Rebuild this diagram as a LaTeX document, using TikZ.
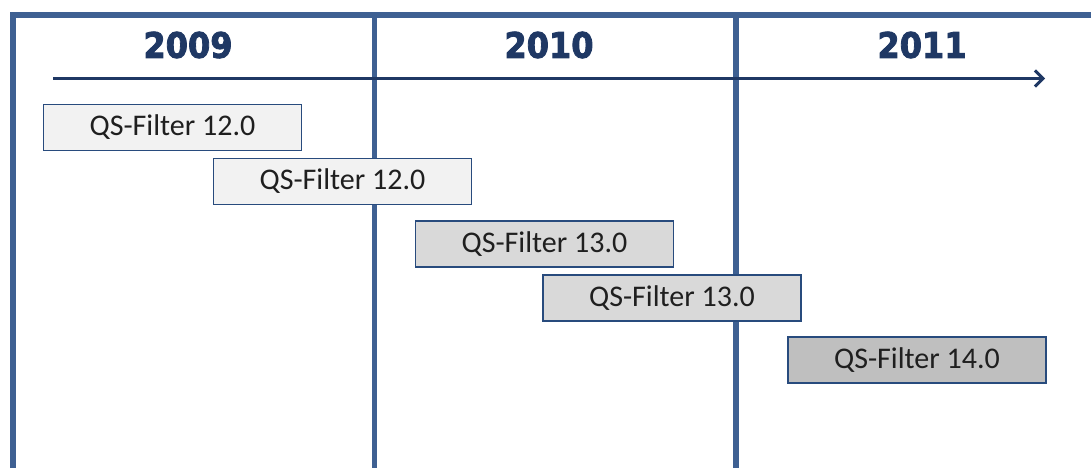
\documentclass[tikz,border=0pt]{standalone}
\usepackage{fontspec}
\setmainfont{Carlito}
\newfontfamily\yearfont[FakeBold=2.5]{DejaVu Sans Bold}
\usetikzlibrary{arrows.meta}
\definecolor{frameblue}{RGB}{62,96,146}
\definecolor{navy}{RGB}{31,56,100}
\definecolor{boxedge}{RGB}{40,75,125}
\definecolor{g1}{RGB}{242,242,242}
\definecolor{g2}{RGB}{217,217,217}
\definecolor{g3}{RGB}{191,191,191}
\tikzset{
  frameline/.style={draw=frameblue, line width=5.5pt},
  year/.style={font=\yearfont\fontsize{32}{32}\selectfont, text=navy, draw=none, inner sep=0pt, yscale=1.1},
  verbox/.style={draw=boxedge, line width=1.5pt, minimum width=258pt, minimum height=46pt, inner sep=0pt,
    font=\fontsize{30}{30}\selectfont, text=black!88},
}
\begin{document}
\begin{tikzpicture}[x=1pt,y=-1pt]
\useasboundingbox (0,0) rectangle (1091,468);
% frame
\coordinate (tl) at (13,15);
\coordinate (tr) at (1091,15);
\coordinate (bl) at (13,468);
\coordinate (v1t) at (374.5,15);
\coordinate (v1b) at (374.5,468);
\coordinate (v2t) at (736,15);
\coordinate (v2b) at (736,468);
\draw[frameline] (bl) -- (tl) -- (tr);
\draw[frameline] (v1t) -- (v1b);
\draw[frameline] (v2t) -- (v2b);
% years
\node[year] (y1) at (188,45) {2009};
\node[year] (y2) at (549,45) {2010};
\node[year] (y3) at (922,45) {2011};
% timeline arrow
\coordinate (as) at (53,78.5);
\coordinate (ae) at (1045,78.5);
\draw[navy, line width=3pt, -{Straight Barb[length=8pt,width=16pt,line width=3pt]}] (as) -- (ae);
% boxes
\node[verbox, fill=g1] (b1) at (172.5,127.5) {QS-Filter 12.0};
\node[verbox, fill=g1] (b2) at (342.5,181.5) {QS-Filter 12.0};
\node[verbox, fill=g2] (b3) at (544.5,244) {QS-Filter 13.0};
\node[verbox, fill=g2] (b4) at (672,298) {QS-Filter 13.0};
\node[verbox, fill=g3] (b5) at (917,360) {QS-Filter 14.0};
\end{tikzpicture}
\end{document}
